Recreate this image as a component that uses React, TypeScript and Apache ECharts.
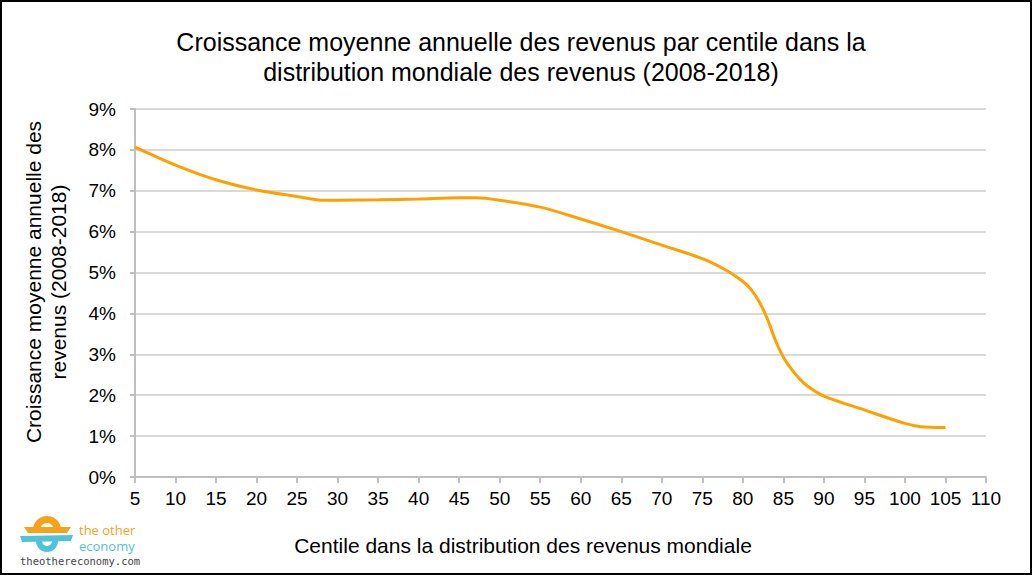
import React, { useEffect, useRef } from "react";
import * as echarts from "echarts";

const centiles = [5, 10, 15, 20, 25, 28, 30, 35, 40, 45, 47, 50, 55, 60, 65, 70, 75, 78, 80, 81, 82, 83, 84, 85, 86, 87, 88, 90, 95, 100, 102, 105];
const growth = [8.07, 7.63, 7.27, 7.02, 6.86, 6.77, 6.77, 6.78, 6.8, 6.83, 6.83, 6.77, 6.6, 6.31, 6.0, 5.67, 5.34, 5.05, 4.78, 4.59, 4.29, 3.88, 3.35, 2.93, 2.64, 2.4, 2.22, 1.98, 1.64, 1.31, 1.23, 1.21];

const titleLines = [
  "Croissance moyenne annuelle des revenus par centile dans la",
  "distribution mondiale des revenus (2008-2018)",
];
const yAxisTitle = ["Croissance moyenne annuelle des", "revenus (2008-2018)"];
const xAxisTitle = "Centile dans la distribution des revenus mondiale";

const FONT = "'Liberation Sans', Arial, sans-serif";

export default function App() {
  const ref = useRef<HTMLDivElement>(null);
  useEffect(() => {
    document.body.style.margin = "0";
    const chart = echarts.init(ref.current!, null, { renderer: "svg" });
    const data = centiles.map((c, i) => [c, growth[i]]);
    chart.setOption({
      animation: false,
      backgroundColor: "#ffffff",
      title: {
        text: titleLines.join("\n"),
        left: 516,
        top: 22,
        textAlign: "center",
        textStyle: {
          fontFamily: FONT,
          fontSize: 25,
          fontWeight: "normal",
          color: "#000",
          lineHeight: 30,
        },
      },
      grid: { left: 135, right: 46, top: 109, bottom: 98, containLabel: false },
      xAxis: {
        type: "value",
        min: 5,
        max: 110,
        interval: 5,
        axisLine: { show: true, lineStyle: { color: "#bfbfbf", width: 2 } },
        axisTick: { show: true, length: 6, lineStyle: { color: "#bfbfbf", width: 2 } },
        axisLabel: { fontFamily: FONT, fontSize: 19, color: "#000", margin: 12, showMinLabel: true, showMaxLabel: true },
        splitLine: { show: false },
      },
      yAxis: {
        type: "value",
        min: 0,
        max: 9,
        interval: 1,
        axisLine: { show: true, lineStyle: { color: "#bfbfbf", width: 2 } },
        axisTick: { show: true, length: 5, lineStyle: { color: "#bfbfbf", width: 2 } },
        axisLabel: {
          fontFamily: FONT,
          fontSize: 19,
          color: "#000",
          margin: 19,
          formatter: (v: number) => `${v}%`,
        },
        splitLine: { show: true, lineStyle: { color: "#d9d9d9", width: 2 } },
      },
      series: [
        {
          type: "line",
          data,
          smooth: 0.3,
          showSymbol: false,
          symbol: "none",
          lineStyle: { color: "#ffa000", width: 3 },
          z: 5,
        },
      ],
      graphic: [
        {
          type: "text",
          x: 46,
          y: 282,
          rotation: Math.PI / 2,
          style: {
            text: yAxisTitle.join("\n"),
            fontFamily: FONT,
            fontSize: 21,
            fill: "#000",
            align: "center",
            verticalAlign: "middle",
            lineHeight: 25,
          },
        },
        {
          type: "text",
          x: 523,
          y: 545,
          style: {
            text: xAxisTitle,
            fontFamily: FONT,
            fontSize: 21,
            fill: "#000",
            align: "center",
            verticalAlign: "middle",
          },
        },
        // logo
        {
          type: "sector",
          shape: { cx: 47, cy: 530, r: 14, r0: 7, startAngle: Math.PI, endAngle: Math.PI * 2 },
          style: { fill: "#f7a21b" },
        },
        {
          type: "polygon",
          shape: { points: [[24, 527], [71, 527], [67, 533], [28, 533]] },
          style: { fill: "#f7a21b" },
        },
        {
          type: "polygon",
          shape: { points: [[20, 536], [73, 535], [71, 541], [22, 542]] },
          style: { fill: "#4ec3d9" },
        },
        {
          type: "sector",
          shape: { cx: 47, cy: 541, r: 11, r0: 5, startAngle: 0, endAngle: Math.PI },
          style: { fill: "#4ec3d9" },
        },
        {
          type: "text",
          x: 79,
          y: 530,
          style: { text: "the other", fontFamily: "'Open Sans', sans-serif", fontSize: 13, lineHeight: 14, fill: "#f7a21b", verticalAlign: "middle" },
        },
        {
          type: "text",
          x: 79,
          y: 546,
          style: { text: "economy", fontFamily: "'Open Sans', sans-serif", fontSize: 13, lineHeight: 14, fill: "#4ec3d9", verticalAlign: "middle" },
        },
        {
          type: "text",
          x: 20,
          y: 561,
          style: { text: "theothereconomy.com", fontFamily: "'DejaVu Sans Mono', monospace", fontSize: 10.5, fill: "#444", verticalAlign: "middle" },
        },
        {
          type: "rect",
          shape: { x: 1, y: 1, width: 1030, height: 573 },
          style: { fill: "none", stroke: "#000", lineWidth: 2 },
          z: 100,
        },
      ],
    });
    return () => chart.dispose();
  }, []);
  return <div ref={ref} style={{ width: 1032, height: 575 }} />;
}
